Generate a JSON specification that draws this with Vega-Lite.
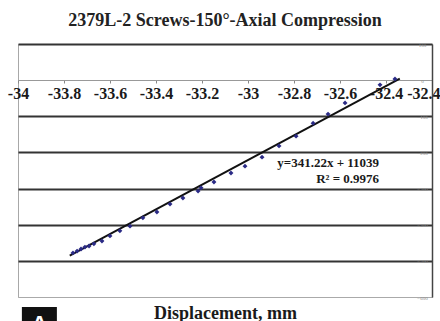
{
  "$schema": "https://vega.github.io/schema/vega-lite/v6.json",
  "width": 414,
  "height": 253,
  "autosize": {"type": "none"},
  "padding": {"left": 18, "top": 44, "right": 8, "bottom": 24},
  "background": "white",
  "title": {"text": "2379L-2 Screws-150°-Axial Compression", "font": "Liberation Serif", "fontSize": 18, "fontWeight": "bold", "color": "#222222", "anchor": "middle", "frame": "group", "baseline": "alphabetic", "offset": -2},
  "config": {"view": {"stroke": "#a8a8a8", "strokeWidth": 1}},
  "resolve": {"axis": {"x": "independent", "y": "independent"}},
  "datasets": {
    "points": [
      {"x": -33.761, "y": -478}, {"x": -33.743, "y": -473}, {"x": -33.726, "y": -467},
      {"x": -33.709, "y": -462}, {"x": -33.691, "y": -459}, {"x": -33.670, "y": -453},
      {"x": -33.635, "y": -445}, {"x": -33.600, "y": -431}, {"x": -33.557, "y": -417},
      {"x": -33.513, "y": -404}, {"x": -33.457, "y": -381}, {"x": -33.396, "y": -365},
      {"x": -33.339, "y": -343}, {"x": -33.283, "y": -326}, {"x": -33.217, "y": -307},
      {"x": -33.204, "y": -298}, {"x": -33.148, "y": -282}, {"x": -33.074, "y": -257},
      {"x": -33.013, "y": -238}, {"x": -32.939, "y": -213}, {"x": -32.865, "y": -182},
      {"x": -32.791, "y": -155}, {"x": -32.717, "y": -119}, {"x": -32.652, "y": -94},
      {"x": -32.578, "y": -63}, {"x": -32.426, "y": -13}, {"x": -32.361, "y": 3}
    ],
    "trend": [{"x": -33.775, "y": -485.7}, {"x": -32.34, "y": 4.0}]
  },
  "layer": [
    {
      "data": {"name": "trend"},
      "mark": {"type": "line", "color": "#111111", "strokeWidth": 2},
      "encoding": {
        "x": {"field": "x", "type": "quantitative", "title": "Displacement, mm",
          "scale": {"domain": [-34, -32.2], "nice": false, "zero": false},
          "axis": {"orient": "bottom", "offset": -217,
            "values": [-34, -33.8, -33.6, -33.4, -33.2, -33, -32.8, -32.6, -32.4, -32.2],
            "labelExpr": "datum.value > -32.3 ? '-32.4' : toString(datum.value)",
            "labelFont": "Liberation Serif", "labelFontWeight": "bold", "labelFontSize": 16, "labelColor": "#1a1a1a",
            "labelFlush": false, "labelOverlap": false, "labelBound": false, "labelPadding": 2,
            "labelAlign": {"condition": {"test": "datum.value > -32.3", "value": "right"}, "value": "center"},
            "labelOffset": {"condition": {"test": "datum.value > -32.3", "value": 8}, "value": 0},
            "tickSize": 3, "tickColor": "#888888", "domainColor": "#999999", "grid": false,
            "titleFont": "Liberation Serif", "titleFontSize": 18, "titleFontWeight": "bold", "titleColor": "#1a1a1a",
            "titleY": 238, "titleBaseline": "alphabetic"}},
        "y": {"field": "y", "type": "quantitative", "title": null,
          "scale": {"domain": [-600, 100], "nice": false, "zero": false},
          "axis": {"orient": "right", "values": [100, 0, -100, -200, -300, -400, -500, -600],
            "ticks": false, "labelPadding": -10, "labelAlign": "center", "labelBaseline": "middle",
            "labelFontSize": 5, "labelColor": "#888888", "labelFont": "Liberation Serif",
            "labelFlush": false, "labelOverlap": false, "labelBound": false,
            "domainColor": "#444444", "domainWidth": 1.5, "grid": true,
            "gridColor": {"condition": {"test": "datum.value == 0 || datum.value == -600", "value": "#aaaaaa"}, "value": "#333333"},
            "gridWidth": {"condition": {"test": "datum.value == 0 || datum.value == -600", "value": 1}, "value": 2}}}
      }
    },
    {
      "data": {"name": "points"},
      "mark": {"type": "point", "shape": "diamond", "filled": true, "color": "#2a2a85", "size": 24, "opacity": 1},
      "encoding": {
        "x": {"field": "x", "type": "quantitative", "axis": null},
        "y": {"field": "y", "type": "quantitative", "axis": null}
      }
    },
    {
      "data": {"values": [{}]},
      "mark": {"type": "text", "text": "y=341.22x + 11039", "align": "right", "baseline": "alphabetic", "font": "Liberation Serif", "fontWeight": "bold", "fontSize": 13, "color": "#1a1a1a"},
      "encoding": {
        "x": {"datum": -32.43, "type": "quantitative", "axis": null},
        "y": {"datum": -240, "type": "quantitative", "axis": null}
      }
    },
    {
      "data": {"values": [{}]},
      "mark": {"type": "text", "text": "R² = 0.9976", "align": "right", "baseline": "alphabetic", "font": "Liberation Serif", "fontWeight": "bold", "fontSize": 13, "color": "#1a1a1a"},
      "encoding": {
        "x": {"datum": -32.43, "type": "quantitative", "axis": null},
        "y": {"datum": -285, "type": "quantitative", "axis": null}
      }
    },
    {
      "data": {"values": [{}]},
      "mark": {"type": "point", "shape": "square", "filled": true, "color": "#111111", "size": 1225, "opacity": 1},
      "encoding": {
        "x": {"datum": -33.907, "type": "quantitative", "axis": null},
        "y": {"datum": -676, "type": "quantitative", "axis": null}
      }
    },
    {
      "data": {"values": [{}]},
      "mark": {"type": "text", "text": "A", "align": "center", "baseline": "alphabetic", "font": "Liberation Sans", "fontWeight": "bold", "fontSize": 22, "color": "white"},
      "encoding": {
        "x": {"datum": -33.907, "type": "quantitative", "axis": null},
        "y": {"datum": -694, "type": "quantitative", "axis": null}
      }
    }
  ]
}
